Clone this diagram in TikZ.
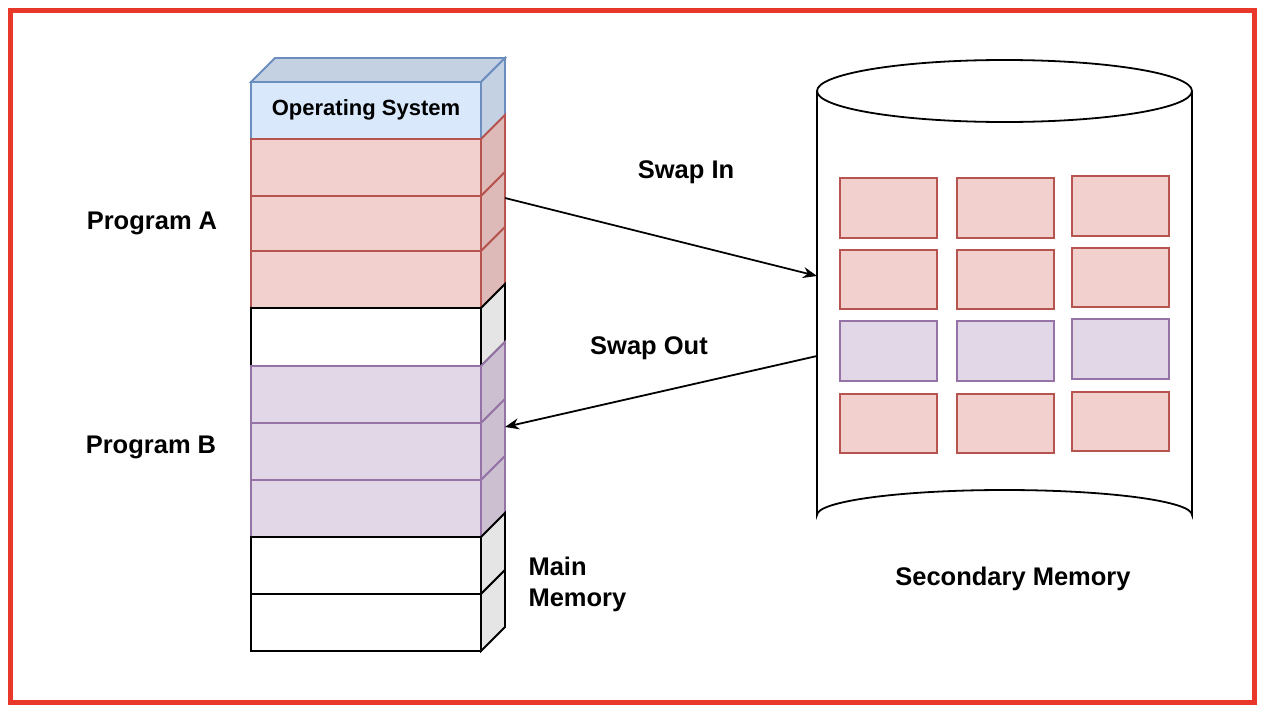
\documentclass[tikz,border=0pt]{standalone}
\usepackage{fontspec}
\setmainfont{Liberation Sans}
\usetikzlibrary{arrows.meta}
\begin{document}
\begin{tikzpicture}[x=1pt,y=-1pt,
  lbl/.style={font=\fontsize{25.5}{30}\selectfont\bfseries},
  arr/.style={-{Stealth[length=14pt,width=11pt]},line width=1.8pt},
  red/.style={fill=redF,draw=redD,line width=1.8pt},
  pur/.style={fill=purF,draw=purD,line width=1.8pt}]
\definecolor{redF}{HTML}{F2D0CE}\definecolor{redD}{HTML}{B85450}
\definecolor{redS}{HTML}{DDBAB8}
\definecolor{purF}{HTML}{E1D7E6}\definecolor{purD}{HTML}{9673A6}
\definecolor{purS}{HTML}{CBBFD0}
\definecolor{bluF}{HTML}{DAE8FC}\definecolor{bluD}{HTML}{6C8EBF}
\definecolor{bluS}{HTML}{C4D1E3}
\definecolor{brd}{HTML}{E8382A}
\useasboundingbox (0,0) rectangle (1264,712);
\fill[white] (0,0) rectangle (1264,712);
\draw[brd,line width=5pt] (10,10) rectangle (1254,702);
% memory stack
\newcommand\mblock[5]{% y1 y2 fill draw side
  \filldraw[fill=#3,draw=#4,line width=1.8pt] (251,#1) rectangle (481,#2);
  \filldraw[fill=#5,draw=#4,line width=1.8pt] (481,#1)--(505,#1-24)--(505,#2-24)--(481,#2)--cycle;}
\filldraw[fill=bluS,draw=bluD,line width=1.8pt] (251,82)--(275,58)--(505,58)--(481,82)--cycle;
\mblock{82}{139}{bluF}{bluD}{bluS}
\mblock{139}{196}{redF}{redD}{redS}
\mblock{196}{251}{redF}{redD}{redS}
\mblock{251}{308}{redF}{redD}{redS}
\mblock{308}{366}{white}{black}{gray!20}
\mblock{366}{423}{purF}{purD}{purS}
\mblock{423}{480}{purF}{purD}{purS}
\mblock{480}{537}{purF}{purD}{purS}
\mblock{537}{594}{white}{black}{gray!20}
\mblock{594}{651}{white}{black}{gray!20}
\node[font=\fontsize{22}{26}\selectfont\bfseries] (os) at (366,110) {Operating System};
\coordinate (memA) at (505,198);
\coordinate (memB) at (505,427);
% cylinder
\draw[line width=1.8pt,fill=white] (817,91) -- (817,515) arc[start angle=180,end angle=360,x radius=187.5,y radius=25] -- (1192,91);
\draw[line width=1.8pt,fill=white] (1004.5,91) ellipse[x radius=187.5,y radius=31];
\coordinate (cylIn) at (817,276);
\coordinate (cylOut) at (817,356);
\foreach \x/\d in {840/0,957/0,1072/-2}{
  \draw[red] (\x,178+\d) rectangle ++(97,60);
  \draw[red] (\x,250+\d) rectangle ++(97,59);
  \draw[pur] (\x,321+\d) rectangle ++(97,60);
  \draw[red] (\x,394+\d) rectangle ++(97,59);
}
\draw[arr] (memA) -- (cylIn);
\draw[arr] (cylOut) -- (memB);
\node[lbl] (si) at (686,172) {Swap In};
\node[lbl] (so) at (649,348) {Swap Out};
\node[lbl] (pa) at (152,223) {Program A};
\node[lbl] (pb) at (151,447) {Program B};
\node[lbl,align=left,anchor=west,font=\fontsize{25.5}{31}\selectfont\bfseries] (mm) at (525,584) {Main\\Memory};
\node[lbl] (sm) at (1013,579) {Secondary Memory};
\end{tikzpicture}
\end{document}
